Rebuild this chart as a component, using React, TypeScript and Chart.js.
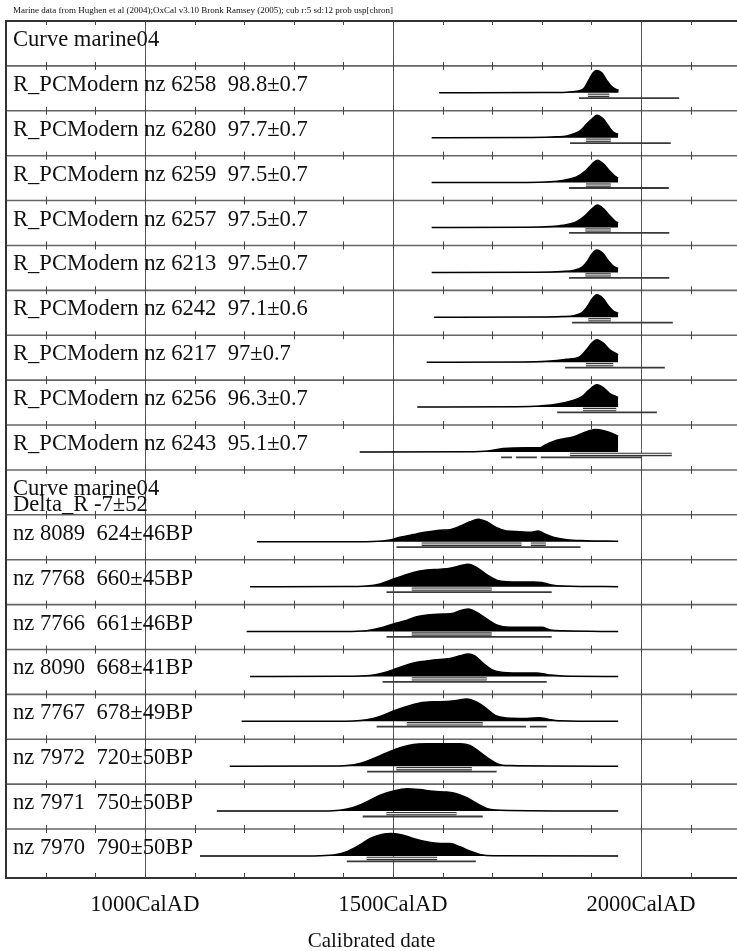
import React, { useEffect, useRef } from "react";
import { Chart, registerables } from "chart.js";

Chart.register(...registerables);

// ---------- DATA ----------
const titleText =
  "Marine data from Hughen et al (2004);OxCal v3.10 Bronk Ramsey (2005); cub r:5 sd:12 prob usp[chron]";
const axisTitle = "Calibrated date";
const majorYears = [1000, 1500, 2000];
const majorLabels = ["1000CalAD", "1500CalAD", "2000CalAD"];
const minorTickYears = [800, 900, 1000, 1100, 1200, 1300, 1400, 1500, 1600, 1700, 1800, 1900, 2000, 2100];

const rowLabels: string[][] = [
  ["Curve marine04"],
  ["R_PCModern nz 6258  98.8±0.7"],
  ["R_PCModern nz 6280  97.7±0.7"],
  ["R_PCModern nz 6259  97.5±0.7"],
  ["R_PCModern nz 6257  97.5±0.7"],
  ["R_PCModern nz 6213  97.5±0.7"],
  ["R_PCModern nz 6242  97.1±0.6"],
  ["R_PCModern nz 6217  97±0.7"],
  ["R_PCModern nz 6256  96.3±0.7"],
  ["R_PCModern nz 6243  95.1±0.7"],
  ["Curve marine04", "Delta_R -7±52"],
  ["nz 8089  624±46BP"],
  ["nz 7768  660±45BP"],
  ["nz 7766  661±46BP"],
  ["nz 8090  668±41BP"],
  ["nz 7767  678±49BP"],
  ["nz 7972  720±50BP"],
  ["nz 7971  750±50BP"],
  ["nz 7970  790±50BP"],
];

// probability distributions: [calendar year AD, relative probability]
const p6258 = [[1593, 0], [1800, 0.01], [1850, 0.03], [1870, 0.07], [1884, 0.18], [1890, 0.37], [1897, 0.66], [1904, 0.9], [1911, 1], [1921, 0.89], [1931, 0.55], [1941, 0.28], [1950, 0.15], [1955, 0.12]];
const p6280 = [[1578, 0], [1780, 0.01], [1830, 0.04], [1850, 0.08], [1877, 0.3], [1890, 0.6], [1901, 0.83], [1911, 1], [1924, 0.83], [1934, 0.53], [1944, 0.25], [1954, 0.15]];
const p6259 = [[1578, 0], [1770, 0.01], [1817, 0.04], [1843, 0.1], [1870, 0.25], [1887, 0.5], [1901, 0.82], [1912, 1], [1925, 0.82], [1937, 0.52], [1948, 0.28], [1954, 0.2]];
const p6257 = [[1578, 0], [1770, 0.01], [1817, 0.04], [1843, 0.1], [1870, 0.26], [1887, 0.52], [1901, 0.83], [1912, 1], [1925, 0.82], [1937, 0.52], [1948, 0.28], [1954, 0.2]];
const p6213 = [[1578, 0], [1790, 0.01], [1840, 0.04], [1866, 0.1], [1882, 0.25], [1892, 0.5], [1901, 0.82], [1911, 1], [1923, 0.85], [1934, 0.52], [1945, 0.26], [1954, 0.18]];
const p6242 = [[1583, 0], [1790, 0.01], [1840, 0.03], [1866, 0.08], [1882, 0.22], [1892, 0.48], [1901, 0.8], [1911, 1], [1923, 0.85], [1934, 0.52], [1945, 0.26], [1954, 0.18]];
const p6217 = [[1568, 0], [1760, 0.01], [1810, 0.04], [1850, 0.13], [1877, 0.25], [1890, 0.55], [1901, 0.85], [1911, 1], [1924, 0.85], [1937, 0.55], [1954, 0.33]];
const p6256 = [[1549, 0], [1750, 0.02], [1796, 0.05], [1823, 0.1], [1863, 0.3], [1880, 0.45], [1894, 0.73], [1911, 1], [1924, 0.87], [1937, 0.6], [1954, 0.43]];
const p6243 = [[1433, 0], [1650, 0.01], [1692, 0.045], [1722, 0.15], [1769, 0.19], [1796, 0.19], [1806, 0.3], [1830, 0.52], [1863, 0.67], [1890, 0.9], [1907, 1], [1921, 0.97], [1937, 0.87], [1954, 0.7]];
const p8089 = [[1226, 0], [1420, 0.005], [1460, 0.015], [1494, 0.08], [1514, 0.2], [1541, 0.32], [1568, 0.43], [1595, 0.51], [1615, 0.54], [1635, 0.69], [1655, 0.89], [1672, 1], [1689, 0.89], [1709, 0.63], [1729, 0.48], [1756, 0.45], [1776, 0.42], [1793, 0.48], [1806, 0.35], [1823, 0.2], [1850, 0.09], [1890, 0.05], [1931, 0.03], [1954, 0.02]];
const p7768 = [[1212, 0], [1400, 0.005], [1447, 0.03], [1474, 0.12], [1501, 0.34], [1521, 0.49], [1541, 0.63], [1568, 0.74], [1595, 0.78], [1615, 0.82], [1635, 0.93], [1652, 1], [1669, 0.85], [1689, 0.53], [1709, 0.29], [1729, 0.22], [1756, 0.21], [1783, 0.21], [1800, 0.19], [1817, 0.09], [1843, 0.03], [1954, 0]];
const p7766 = [[1205, 0], [1400, 0.005], [1447, 0.04], [1474, 0.16], [1501, 0.34], [1527, 0.49], [1548, 0.66], [1575, 0.75], [1601, 0.78], [1622, 0.82], [1635, 0.93], [1652, 1], [1669, 0.85], [1689, 0.56], [1709, 0.29], [1736, 0.19], [1783, 0.19], [1800, 0.19], [1817, 0.07], [1843, 0.03], [1954, 0]];
const p8090 = [[1212, 0], [1400, 0.01], [1454, 0.045], [1480, 0.15], [1507, 0.35], [1534, 0.55], [1554, 0.65], [1581, 0.73], [1615, 0.8], [1635, 0.92], [1652, 1], [1665, 0.91], [1682, 0.58], [1699, 0.3], [1722, 0.18], [1769, 0.15], [1790, 0.15], [1803, 0.12], [1817, 0.06], [1843, 0.02], [1954, 0]];
const p7767 = [[1195, 0], [1380, 0.005], [1420, 0.015], [1447, 0.07], [1474, 0.22], [1501, 0.46], [1528, 0.66], [1554, 0.82], [1581, 0.87], [1608, 0.88], [1628, 0.93], [1649, 1], [1669, 0.85], [1689, 0.56], [1706, 0.26], [1729, 0.15], [1770, 0.13], [1796, 0.16], [1813, 0.09], [1837, 0.03], [1954, 0]];
const p7972 = [[1171, 0], [1370, 0.005], [1407, 0.03], [1433, 0.12], [1460, 0.34], [1487, 0.59], [1514, 0.82], [1541, 0.97], [1568, 1], [1595, 1], [1635, 1], [1655, 0.93], [1675, 0.63], [1696, 0.29], [1712, 0.09], [1736, 0.03], [1954, 0]];
const p7971 = [[1145, 0], [1360, 0.005], [1393, 0.04], [1420, 0.16], [1447, 0.41], [1474, 0.71], [1501, 0.9], [1528, 1], [1554, 0.96], [1581, 0.88], [1608, 0.85], [1628, 0.78], [1649, 0.6], [1669, 0.34], [1689, 0.12], [1716, 0.04], [1954, 0]];
const p7970 = [[1111, 0], [1340, 0.005], [1380, 0.04], [1407, 0.19], [1433, 0.49], [1454, 0.78], [1477, 0.96], [1497, 1], [1521, 0.93], [1541, 0.78], [1568, 0.63], [1595, 0.56], [1615, 0.56], [1635, 0.41], [1655, 0.22], [1675, 0.07], [1702, 0.01], [1954, 0]];

// highest posterior density ranges [from, to]
const r68 = [
  null,
  [[1893, 1936]], [[1889, 1939]], [[1889, 1939]], [[1888, 1939]], [[1888, 1939]],
  [[1894, 1939]], [[1889, 1944]], [[1883, 1950]], [[1857, 2062]],
  null,
  [[1558, 1759], [1778, 1808]], [[1538, 1699]], [[1538, 1699]], [[1538, 1689]],
  [[1528, 1681]], [[1507, 1659]], [[1487, 1628]], [[1447, 1589]],
];
const r95 = [
  null,
  [[1875, 2077]], [[1857, 2060]], [[1855, 2056]], [[1855, 2057]], [[1855, 2057]],
  [[1861, 2064]], [[1847, 2048]], [[1831, 2032]], [[1718, 1740], [1748, 1790], [1798, 2002]],
  null,
  [[1507, 1878]], [[1487, 1820]], [[1487, 1820]], [[1479, 1810]],
  [[1467, 1768], [1776, 1810]], [[1448, 1709]], [[1439, 1681]], [[1407, 1667]],
];
const rowDists = [null, p6258, p6280, p6259, p6257, p6213, p6242, p6217, p6256, p6243, null,
  p8089, p7768, p7766, p8090, p7767, p7972, p7971, p7970];

// ---------- CHART ----------
const X_MIN = 720;
const X_MAX = 2193.5;
const Y_MAX = 19.09; // 19 rows plus a little space above the bottom frame
const BASE = 0.6; // baseline of each distribution inside its row (row units)
const PEAK = 0.5; // height of a distribution's maximum (row units)
const SERIF = '"Liberation Serif", "Times New Roman", serif';

function segData(segs: number[][], y: number) {
  const out: any[] = [];
  segs.forEach(([a, b]) => {
    out.push({ x: a, y });
    out.push({ x: b, y });
    out.push({ x: b + 0.01, y: null });
  });
  return out;
}

const framePlugin = {
  id: "oxcalFrame",
  beforeDatasetsDraw(chart: any) {
    const { ctx, chartArea, scales } = chart;
    const xs = scales.x;
    const ys = scales.y;
    ctx.save();
    // vertical major grid
    ctx.strokeStyle = "#555";
    ctx.lineWidth = 1;
    majorYears.forEach((yr) => {
      const px = Math.round(xs.getPixelForValue(yr)) + 0.5;
      ctx.beginPath();
      ctx.moveTo(px, chartArea.top);
      ctx.lineTo(px, chartArea.bottom);
      ctx.stroke();
    });
    // row separators (top frame + inner) with ticks
    const lines: number[] = [];
    for (let i = 0; i < rowLabels.length; i++) lines.push(ys.getPixelForValue(i));
    lines.forEach((py, i) => {
      ctx.strokeStyle = i === 0 ? "#333" : "#666";
      ctx.lineWidth = i === 0 ? 2 : 1.6;
      ctx.beginPath();
      ctx.moveTo(chartArea.left, py);
      ctx.lineTo(chartArea.right, py);
      ctx.stroke();
      ctx.strokeStyle = "#444";
      ctx.lineWidth = 1;
      minorTickYears.forEach((yr) => {
        const px = Math.round(xs.getPixelForValue(yr)) + 0.5;
        ctx.beginPath();
        ctx.moveTo(px, py - (i === 0 ? 0 : 4));
        ctx.lineTo(px, py + 4);
        ctx.stroke();
      });
    });
    // bottom frame with upward ticks
    const pb = chartArea.bottom;
    ctx.strokeStyle = "#333";
    ctx.lineWidth = 2;
    ctx.beginPath();
    ctx.moveTo(chartArea.left, pb);
    ctx.lineTo(chartArea.right, pb);
    ctx.stroke();
    ctx.strokeStyle = "#444";
    ctx.lineWidth = 1;
    minorTickYears.forEach((yr) => {
      const px = Math.round(xs.getPixelForValue(yr)) + 0.5;
      ctx.beginPath();
      ctx.moveTo(px, pb - 5);
      ctx.lineTo(px, pb);
      ctx.stroke();
    });
    // left frame
    ctx.strokeStyle = "#333";
    ctx.lineWidth = 2;
    ctx.beginPath();
    ctx.moveTo(chartArea.left, chartArea.top - 1);
    ctx.lineTo(chartArea.left, chartArea.bottom + 1);
    ctx.stroke();
    ctx.restore();
  },
  afterDraw(chart: any) {
    const { ctx, chartArea, scales } = chart;
    const xs = scales.x;
    const ys = scales.y;
    ctx.save();
    ctx.fillStyle = "#111";
    ctx.textAlign = "left";
    ctx.textBaseline = "alphabetic";
    ctx.font = `9px ${SERIF}`;
    ctx.fillText(titleText, chartArea.left + 7, 13);
    ctx.font = `22.6px ${SERIF}`;
    rowLabels.forEach((lines, i) => {
      const top = ys.getPixelForValue(i);
      lines.forEach((t, k) => {
        ctx.fillText(t, chartArea.left + 7, top + 25 + k * 16);
      });
    });
    ctx.textAlign = "center";
    majorYears.forEach((yr, k) => {
      ctx.fillText(majorLabels[k], xs.getPixelForValue(yr), 911);
    });
    ctx.font = `21px ${SERIF}`;
    ctx.fillText(axisTitle, (chartArea.left + chartArea.right) / 2, 947);
    ctx.restore();
  },
};

export default function App() {
  const ref = useRef<HTMLCanvasElement | null>(null);
  useEffect(() => {
    document.body.style.margin = "0";
    const datasets: any[] = [];
    rowDists.forEach((dist, i) => {
      if (!dist) return;
      const base = i + BASE;
      datasets.push({
        data: dist.map(([yr, p]) => ({ x: yr, y: base - p * PEAK })),
        borderColor: "#000",
        backgroundColor: "#000",
        borderWidth: 1.5,
        pointRadius: 0,
        cubicInterpolationMode: "monotone",
        fill: { value: base },
        order: 3,
      });
      const s95 = r95[i];
      if (s95) {
        datasets.push({
          data: segData(s95, base + 0.12),
          borderColor: "#3a3a3a",
          borderWidth: 1.8,
          pointRadius: 0,
          spanGaps: false,
          fill: false,
          order: 2,
        });
      }
      const s68 = r68[i];
      if (s68) {
        datasets.push({
          data: segData(s68, base + 0.055),
          borderColor: "#333",
          borderWidth: 3.4,
          pointRadius: 0,
          spanGaps: false,
          fill: false,
          order: 1,
        });
        datasets.push({
          data: segData(s68, base + 0.055),
          borderColor: "#e6e6e6",
          borderWidth: 1.2,
          pointRadius: 0,
          spanGaps: false,
          fill: false,
          order: 0,
        });
      }
    });
    const chart = new Chart(ref.current as HTMLCanvasElement, {
      type: "line",
      data: { datasets },
      options: {
        responsive: false,
        animation: false,
        events: [],
        layout: { padding: { left: 6, right: 0, top: 21, bottom: 73 } },
        scales: {
          x: { type: "linear", min: X_MIN, max: X_MAX, display: false },
          y: { type: "linear", min: 0, max: Y_MAX, reverse: true, display: false },
        },
        plugins: { legend: { display: false }, tooltip: { enabled: false }, title: { display: false } },
      },
      plugins: [framePlugin],
    } as any);
    return () => chart.destroy();
  }, []);
  return (
    <div style={{ width: 737, height: 951, background: "#fff" }}>
      <canvas ref={ref} width={737} height={951} style={{ display: "block" }} />
    </div>
  );
}
